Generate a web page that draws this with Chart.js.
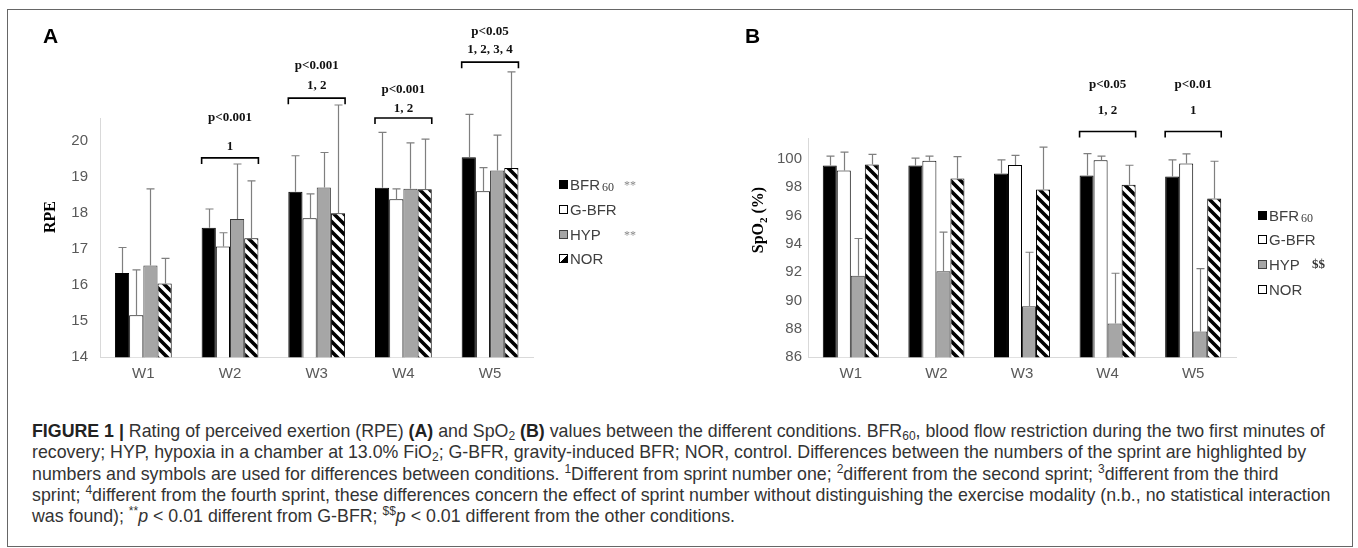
<!DOCTYPE html>
<html>
<head>
<meta charset="utf-8">
<script src="https://cdn.jsdelivr.net/npm/chart.js@4.4.0/dist/chart.umd.min.js"></script>
<style>
  body { margin: 0; background: #fff; width: 1358px; height: 548px; overflow: hidden; position: relative;
         font-family: "Liberation Sans", Arial, sans-serif; }
  .frame { position: absolute; left: 7px; top: 9px; width: 1346px; height: 538px; border: 1.5px solid #666; box-sizing: border-box; }
  canvas { position: absolute; top: 0; }
  #chartA { left: 0; }
  #chartB { left: 680px; }
  .panel { position: absolute; top: 25px; font-weight: bold; font-size: 21px; line-height: 21px; color: #000; }
  .ytitle { position: absolute; font-family: "Liberation Serif", serif; font-weight: bold; font-size: 16px; color: #000;
            transform: translate(-50%, -50%) rotate(-90deg); white-space: nowrap; }
  .ytitle sub { font-size: 11px; }
  .leg { position: absolute; display: flex; align-items: center; height: 18px; font-size: 15px; color: #404040; white-space: nowrap; }
  .leg sub { font-family: "Liberation Serif", serif; font-size: 12px; position: relative; top: 3px; vertical-align: baseline; margin-left: 2px; }
  .sw { display: inline-block; width: 7px; height: 7px; border: 1px solid #000; margin-right: 2px; box-sizing: content-box; }
  .sw.blk { background: #000; }
  .sw.wht { background: #fff; }
  .sw.gry { background: #a6a6a6; border-color: #404040; }
  .sw.hat { background: linear-gradient(135deg, #fff 50%, #000 50%); }
  .mark { position: absolute; font-family: "Liberation Serif", serif; font-size: 12px; line-height: 18px; color: #888; }
  .mark.dol { font-weight: bold; font-size: 13px; color: #333; }
  .caption { position: absolute; left: 32px; top: 421px; font-size: 17.8px; line-height: 21.3px; color: #333; white-space: nowrap; }
  .caption b { color: #222; }
  .caption sub, .caption sup { font-size: 12px; line-height: 0; position: relative; vertical-align: baseline; }
  .caption sub { top: 3px; }
  .caption sup { top: -7px; }
</style>
</head>
<body>
<div class="frame"></div>
<canvas id="chartA" width="680" height="410"></canvas>
<canvas id="chartB" width="678" height="410"></canvas>

<div class="panel" style="left:43px">A</div>
<div class="panel" style="left:745px">B</div>
<div class="ytitle" style="left:50px;top:217px">RPE</div>
<div class="ytitle" style="left:759px;top:220px">SpO<sub>2</sub> (%)</div>

<div class="leg" style="left:559px;top:175px"><span class="sw blk"></span>BFR<sub>60</sub></div>
<div class="mark" style="left:624px;top:176px">**</div>
<div class="leg" style="left:559px;top:200px"><span class="sw wht"></span>G-BFR</div>
<div class="leg" style="left:559px;top:225px"><span class="sw gry"></span>HYP</div>
<div class="mark" style="left:624px;top:226px">**</div>
<div class="leg" style="left:559px;top:249px"><span class="sw hat"></span>NOR</div>

<div class="leg" style="left:1258px;top:206px"><span class="sw blk"></span>BFR<sub>60</sub></div>
<div class="leg" style="left:1258px;top:230px"><span class="sw wht"></span>G-BFR</div>
<div class="leg" style="left:1258px;top:255px"><span class="sw gry"></span>HYP</div>
<div class="mark dol" style="left:1312px;top:255px">$$</div>
<div class="leg" style="left:1258px;top:280px"><span class="sw wht"></span>NOR</div>

<div class="caption">
<b>FIGURE 1 |</b> Rating of perceived exertion (RPE) <b>(A)</b> and SpO<sub>2</sub> <b>(B)</b> values between the different conditions. BFR<sub>60</sub>, blood flow restriction during the two first minutes of<br>
recovery; HYP, hypoxia in a chamber at 13.0% FiO<sub>2</sub>; G-BFR, gravity-induced BFR; NOR, control. Differences between the numbers of the sprint are highlighted by<br>
numbers and symbols are used for differences between conditions. <sup>1</sup>Different from sprint number one; <sup>2</sup>different from the second sprint; <sup>3</sup>different from the third<br>
sprint; <sup>4</sup>different from the fourth sprint, these differences concern the effect of sprint number without distinguishing the exercise modality (n.b., no statistical interaction<br>
was found); <sup>**</sup><i>p</i> &lt; 0.01 different from G-BFR; <sup>$$</sup><i>p</i> &lt; 0.01 different from the other conditions.
</div>

<script>
// sprints
const weeks = ['W1', 'W2', 'W3', 'W4', 'W5'];

// Panel A - RPE, means and SD (only the upper whisker is drawn)
const rpeBFR60 = [16.34, 17.60, 18.60, 18.71, 19.56];
const rpeGBFR = [15.17, 17.08, 17.86, 18.39, 18.61];
const rpeHYP = [16.55, 17.84, 18.72, 18.68, 19.19];
const rpeNOR = [16.05, 17.31, 18.00, 18.67, 19.26];
const rpeBFR60Sd = [0.71, 0.52, 1.00, 1.54, 1.19];
const rpeGBFRSd = [1.26, 0.38, 0.68, 0.29, 0.66];
const rpeHYPSd = [2.13, 1.53, 0.97, 1.28, 0.98];
const rpeNORSd = [0.70, 1.59, 3.01, 1.39, 2.67];
const rpeTicks = [14, 15, 16, 17, 18, 19, 20];

// Panel B - SpO2 (%)
const spoBFR60 = [99.53, 99.53, 98.96, 98.82, 98.75];
const spoGBFR = [99.17, 99.86, 99.57, 99.90, 99.67];
const spoHYP = [91.76, 92.07, 89.61, 88.39, 87.82];
const spoNOR = [99.60, 98.61, 97.83, 98.18, 97.21];
const spoBFR60Sd = [0.66, 0.52, 0.97, 1.55, 1.18];
const spoGBFRSd = [1.30, 0.33, 0.67, 0.29, 0.68];
const spoHYPSd = [2.62, 2.76, 3.80, 3.54, 4.43];
const spoNORSd = [0.71, 1.55, 3.00, 1.37, 2.62];
const spoTicks = [86, 88, 90, 92, 94, 96, 98, 100];

// significance labels above the groups
const rpePText = ['', 'p<0.001', 'p<0.001', 'p<0.001', 'p<0.05'];
const rpeSprintText = ['', '1', '1, 2', '1, 2', '1, 2, 3, 4'];
const spoPText = ['', '', '', 'p<0.05', 'p<0.01'];
const spoSprintText = ['', '', '', '1, 2', '1'];

Chart.defaults.font.family = '"Liberation Sans", Arial, sans-serif';
Chart.defaults.animation = false;

// diagonal hatch for NOR
function makeHatch() {
  const c = document.createElement('canvas');
  c.width = 10; c.height = 10;
  const g = c.getContext('2d');
  g.fillStyle = '#fff';
  g.fillRect(0, 0, 10, 10);
  g.strokeStyle = '#000';
  g.lineWidth = 3.6;
  g.beginPath();
  g.moveTo(-3, -3); g.lineTo(13, 13);
  g.moveTo(-3, 7); g.lineTo(3, 13);
  g.moveTo(7, -3); g.lineTo(13, 3);
  g.stroke();
  return g.createPattern(c, 'repeat');
}
const hatch = makeHatch();

function barSets(means, sds) {
  const looks = [
    { label: 'BFR60', backgroundColor: '#000', borderColor: '#000' },
    { label: 'G-BFR', backgroundColor: '#fff', borderColor: '#000' },
    { label: 'HYP', backgroundColor: '#a6a6a6', borderColor: '#3a3a3a' },
    { label: 'NOR', backgroundColor: hatch, borderColor: '#000' }
  ];
  return looks.map((l, i) => Object.assign(l, {
    data: means[i], sd: sds[i], borderWidth: 1,
    categoryPercentage: 0.655, barPercentage: 1
  }));
}

// upper SD whiskers
const errorBars = {
  id: 'errorBars',
  afterDatasetsDraw(chart) {
    const ctx = chart.ctx, y = chart.scales.y;
    ctx.save();
    ctx.strokeStyle = '#7f7f7f';
    ctx.lineWidth = 1.2;
    chart.data.datasets.forEach((ds, i) => {
      chart.getDatasetMeta(i).data.forEach((bar, j) => {
        const top = y.getPixelForValue(ds.data[j] + ds.sd[j]);
        const x = Math.round(bar.x) + 0.5;
        ctx.beginPath();
        ctx.moveTo(x, bar.y);
        ctx.lineTo(x, top);
        ctx.moveTo(x - 4, top);
        ctx.lineTo(x + 4, top);
        ctx.stroke();
      });
    });
    ctx.restore();
  }
};

// brackets + p-values, levels given in axis units
function sigMarks(pText, numText, bracket, numLevel, pLevel) {
  return {
    id: 'sigMarks',
    afterDatasetsDraw(chart) {
      const ctx = chart.ctx, x = chart.scales.x, y = chart.scales.y;
      const first = chart.getDatasetMeta(0).data;
      const last = chart.getDatasetMeta(chart.data.datasets.length - 1).data;
      ctx.save();
      ctx.strokeStyle = '#000';
      ctx.lineWidth = 1.6;
      ctx.fillStyle = '#111';
      ctx.font = 'bold 13px "Liberation Serif", serif';
      ctx.textAlign = 'center';
      ctx.textBaseline = 'middle';
      pText.forEach((p, i) => {
        if (!p) return;
        const l = first[i].x - first[i].width / 2;
        const r = last[i].x + last[i].width / 2;
        const yb = y.getPixelForValue(bracket[i]);
        ctx.beginPath();
        ctx.moveTo(l, yb + 6); ctx.lineTo(l, yb); ctx.lineTo(r, yb); ctx.lineTo(r, yb + 6);
        ctx.stroke();
        const cx = x.getPixelForValue(i);
        ctx.fillText(numText[i], cx, y.getPixelForValue(numLevel[i]));
        ctx.fillText(p, cx, y.getPixelForValue(pLevel[i]));
      });
      ctx.restore();
    }
  };
}

function makeChart(id, datasets, yMin, yMax, ticks, pad, yWidth, tickPad, marks) {
  return new Chart(document.getElementById(id), {
    type: 'bar',
    data: { labels: weeks, datasets: datasets },
    options: {
      responsive: false,
      layout: { padding: pad },
      plugins: { legend: { display: false }, tooltip: { enabled: false } },
      scales: {
        x: {
          grid: { display: false, drawTicks: false },
          border: { display: true, color: '#d9d9d9', width: 1 },
          ticks: { color: '#595959', font: { size: 15 }, padding: 8 },
          afterFit: (s) => { s.height = 410 - 357.3; }
        },
        y: {
          min: yMin, max: yMax,
          grid: { display: false, drawTicks: false },
          border: { display: true, color: '#d9d9d9', width: 1 },
          ticks: { color: '#595959', font: { size: 15 }, padding: tickPad },
          afterBuildTicks: (s) => { s.ticks = ticks.map(v => ({ value: v })); },
          afterFit: (s) => { s.width = yWidth; }
        }
      }
    },
    plugins: [errorBars, marks]
  });
}

makeChart('chartA',
  barSets([rpeBFR60, rpeGBFR, rpeHYP, rpeNOR], [rpeBFR60Sd, rpeGBFRSd, rpeHYPSd, rpeNORSd]),
  14, 20.64, rpeTicks,
  { left: 40, right: 146.6, top: 118.3, bottom: 0 }, 60, 12,
  sigMarks(rpePText, rpeSprintText,
    [0, 19.54, 21.20, 20.65, 22.20],
    [0, 19.84, 21.56, 20.92, 22.56],
    [0, 20.65, 22.09, 21.45, 23.04]));

makeChart('chartB',
  barSets([spoBFR60, spoGBFR, spoHYP, spoNOR], [spoBFR60Sd, spoGBFRSd, spoHYPSd, spoNORSd]),
  86, 101.45, spoTicks,
  { left: 78, right: 122, top: 138.3, bottom: 0 }, 50, 6,
  sigMarks(spoPText, spoSprintText,
    [0, 0, 0, 101.93, 101.93],
    [0, 0, 0, 103.42, 103.42],
    [0, 0, 0, 105.25, 105.25]));
</script>
</body>
</html>
